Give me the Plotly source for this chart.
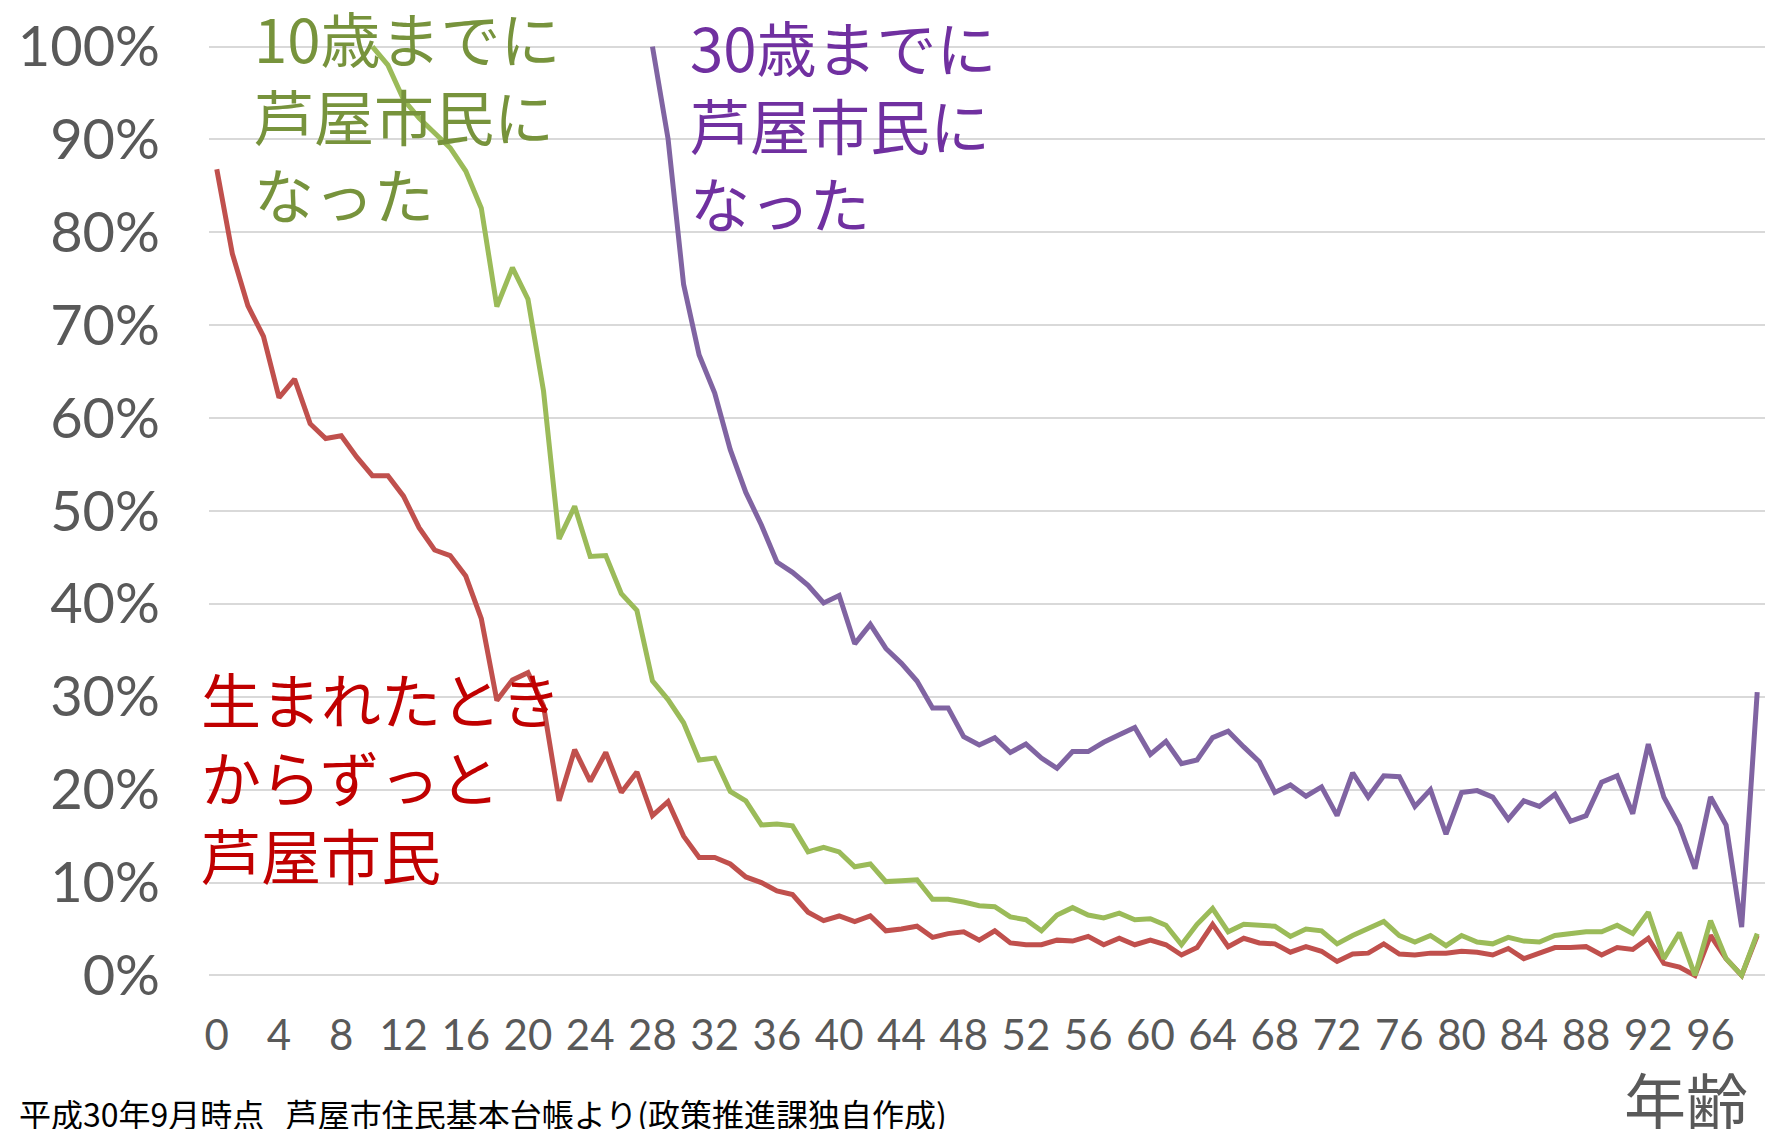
import plotly.graph_objects as go

ages = list(range(0, 100))

# 生まれたときからずっと芦屋市民 (%), ages 0-99
born_here = [86.8, 77.7, 72.1, 68.8, 62.2, 64.2, 59.4, 57.8, 58.1, 55.8,
             53.8, 53.8, 51.6, 48.2, 45.8, 45.2, 43.0, 38.4, 29.6, 31.8,
             32.6, 29.0, 18.8, 24.3, 20.9, 24.0, 19.7, 21.9, 17.2, 18.7,
             15.0, 12.7, 12.7, 12.0, 10.6, 10.0, 9.1, 8.7, 6.8, 5.9,
             6.4, 5.8, 6.4, 4.8, 5.0, 5.3, 4.1, 4.5, 4.7, 3.8,
             4.8, 3.5, 3.3, 3.3, 3.8, 3.7, 4.2, 3.3, 4.0, 3.3,
             3.8, 3.3, 2.2, 3.0, 5.5, 3.1, 4.0, 3.5, 3.4, 2.5,
             3.1, 2.6, 1.5, 2.3, 2.4, 3.4, 2.3, 2.2, 2.4, 2.4,
             2.6, 2.5, 2.2, 2.9, 1.8, 2.4, 3.0, 3.0, 3.1, 2.2,
             3.0, 2.8, 4.0, 1.3, 0.9, 0.0, 4.3, 1.8, 0.0, 4.3]

# 10歳までに芦屋市民になった (%), ages 10-99
by_age10_ages = list(range(10, 100))
by_age10 = [100.0, 98.0, 94.3, 92.3, 90.7, 89.1, 86.6, 82.6, 72.0, 76.2,
            72.8, 62.9, 47.0, 50.5, 45.1, 45.2, 41.1, 39.3, 31.7, 29.7,
            27.2, 23.2, 23.4, 19.8, 18.8, 16.2, 16.3, 16.1, 13.3, 13.8,
            13.3, 11.7, 12.0, 10.1, 10.2, 10.3, 8.2, 8.2, 7.9, 7.5,
            7.4, 6.3, 6.0, 4.8, 6.5, 7.3, 6.5, 6.2, 6.7, 6.0,
            6.1, 5.4, 3.3, 5.5, 7.2, 4.7, 5.5, 5.4, 5.3, 4.2,
            5.0, 4.8, 3.4, 4.3, 5.1, 5.8, 4.3, 3.6, 4.3, 3.2,
            4.3, 3.6, 3.4, 4.1, 3.7, 3.6, 4.3, 4.5, 4.7, 4.7,
            5.4, 4.5, 6.8, 1.8, 4.6, 0.0, 5.9, 1.8, 0.0, 4.5]

# 30歳までに芦屋市民になった (%), ages 28-99
by_age30_ages = list(range(28, 100))
by_age30 = [100.0, 90.1, 74.4, 66.8, 62.7, 56.6, 52.0, 48.5, 44.5, 43.4,
            42.0, 40.1, 40.9, 35.7, 37.8, 35.2, 33.6, 31.7, 28.8, 28.8,
            25.7, 24.8, 25.6, 24.0, 24.9, 23.4, 22.3, 24.1, 24.1, 25.1,
            25.9, 26.7, 23.8, 25.2, 22.8, 23.2, 25.6, 26.3, 24.6, 23.0,
            19.7, 20.5, 19.3, 20.3, 17.2, 21.8, 19.2, 21.5, 21.4, 18.2,
            20.0, 15.2, 19.7, 19.9, 19.2, 16.8, 18.8, 18.2, 19.5, 16.6,
            17.2, 20.8, 21.5, 17.4, 24.9, 19.2, 16.1, 11.5, 19.2, 16.2,
            5.2, 30.5]

x_ticks = list(range(0, 100, 4))
y_ticks = [i / 10 for i in range(0, 11)]

W, H = 1765, 1129
ML, MR, MT, MB = 209, 0, 41, 148
PW, PH = W - ML - MR, H - MT - MB


def px(xp):
    return (xp - ML) / PW


def py(yp):
    return (H - MB - yp) / PH


fig = go.Figure()
fig.add_trace(go.Scatter(x=ages, y=[v / 100 for v in born_here], mode="lines",
                         line=dict(color="#C0504D", width=5), showlegend=False))
fig.add_trace(go.Scatter(x=by_age10_ages, y=[v / 100 for v in by_age10], mode="lines",
                         line=dict(color="#9BBB59", width=5), showlegend=False))
fig.add_trace(go.Scatter(x=by_age30_ages, y=[v / 100 for v in by_age30], mode="lines",
                         line=dict(color="#8064A2", width=5), showlegend=False))

jp = "Noto Sans CJK JP"
ann = [
    dict(text="10歳までに<br>芦屋市民に<br>なった", x=px(252), y=py(114), color="#77933C"),
    dict(text="30歳までに<br>芦屋市民に<br>なった", x=px(688), y=py(124), color="#7030A0"),
    dict(text="生まれたとき<br>からずっと<br>芦屋市民", x=px(199), y=py(775), color="#C00000"),
]
annotations = []
for a in ann:
    annotations.append(dict(text=a["text"], x=a["x"], y=a["y"], xref="paper", yref="paper",
                            xanchor="left", yanchor="middle", align="left", showarrow=False,
                            font=dict(family=jp, size=60, color=a["color"])))
annotations.append(dict(text="年齢", x=px(1686), y=py(1099), xref="paper", yref="paper",
                        xanchor="center", yanchor="middle", showarrow=False,
                        font=dict(family=jp, size=62, color="#595959")))
annotations.append(dict(text="平成30年9月時点   芦屋市住民基本台帳より(政策推進課独自作成)",
                        x=px(17), y=py(1113), xref="paper", yref="paper",
                        xanchor="left", yanchor="middle", showarrow=False,
                        font=dict(family=jp, size=32, color="#000000")))

fig.update_layout(
    width=W, height=H,
    margin=dict(l=ML, r=MR, t=MT, b=MB, pad=0),
    paper_bgcolor="white", plot_bgcolor="white",
    annotations=annotations,
    xaxis=dict(range=[-0.5, 99.5], tickmode="array", tickvals=x_ticks,
               ticktext=[str(v) for v in x_ticks], showgrid=False, zeroline=False,
               showline=False, ticks="", ticklabelstandoff=26,
               tickfont=dict(family="Lato", size=42, color="#595959")),
    yaxis=dict(range=[-0.006, 1.006], tickmode="array", tickvals=y_ticks,
               tickformat=".0%", showgrid=True, gridcolor="#D9D9D9", gridwidth=2,
               zeroline=False, showline=False, ticks="", ticklabelstandoff=48,
               tickfont=dict(family="Lato", size=56, color="#595959")),
)

fig.write_html("out.html", config={"displayModeBar": False},
               post_script="document.body.style.margin='0';")
